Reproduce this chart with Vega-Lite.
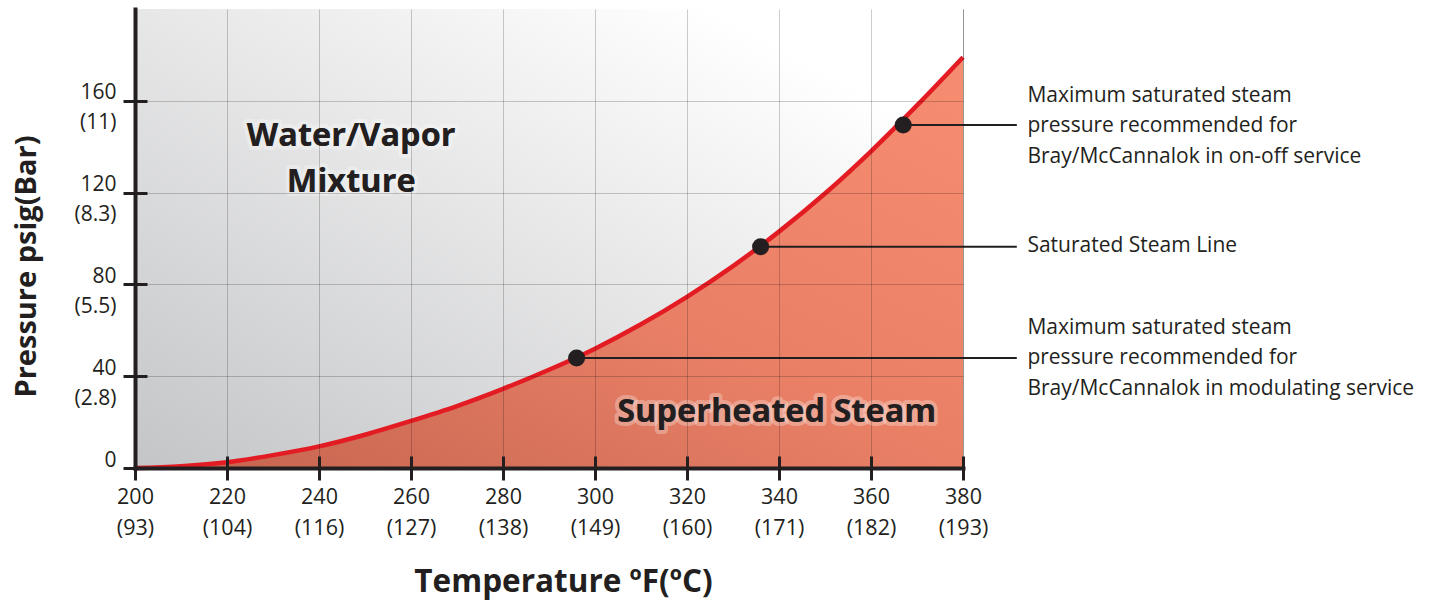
{
  "$schema": "https://vega.github.io/schema/vega-lite/v6.json",
  "width": 828,
  "height": 459,
  "autosize": {"type": "none"},
  "padding": {"left": 135, "top": 9, "right": 471, "bottom": 134},
  "background": "white",
  "config": {
    "view": {"stroke": "#bdbdbd", "strokeWidth": 1},
    "font": "Open Sans"
  },
  "datasets": {
    "bg": [{"t0": 200, "t1": 380, "p0": 0, "p1": 200}],
    "curve": [
      {"temp": 200, "psig": 0},
      {"temp": 210, "psig": 0.8},
      {"temp": 220, "psig": 2.5},
      {"temp": 230, "psig": 5.6},
      {"temp": 240, "psig": 9.4},
      {"temp": 250, "psig": 14.5},
      {"temp": 260, "psig": 20.5},
      {"temp": 270, "psig": 27},
      {"temp": 280, "psig": 34.5},
      {"temp": 290, "psig": 42.8},
      {"temp": 300, "psig": 52},
      {"temp": 310, "psig": 62.6},
      {"temp": 320, "psig": 74.6},
      {"temp": 330, "psig": 88},
      {"temp": 340, "psig": 103},
      {"temp": 350, "psig": 119.6},
      {"temp": 360, "psig": 138},
      {"temp": 370, "psig": 158},
      {"temp": 380, "psig": 179}
    ],
    "notes": [
      {"temp": 367, "psig": 149.5, "end": 391.7, "tx": 394, "ty": 162.2, "label": "Maximum saturated steam\npressure recommended for\nBray/McCannalok in on-off service"},
      {"temp": 336, "psig": 96.4, "end": 391.7, "tx": 394, "ty": 96.8, "label": "Saturated Steam Line"},
      {"temp": 296, "psig": 47.9, "end": 391.7, "tx": 394, "ty": 61.1, "label": "Maximum saturated steam\npressure recommended for\nBray/McCannalok in modulating service"}
    ],
    "regions": [
      {"temp": 247, "psig": 140.1, "label": "Water/Vapor\nMixture"},
      {"temp": 339.5, "psig": 20.2, "label": "Superheated Steam"}
    ]
  },
  "layer": [
    {
      "layer": [
        {
          "data": {"name": "bg"},
          "mark": {
            "type": "rect",
            "fill": {"gradient": "linear", "x1": 0, "y1": 1, "x2": 1, "y2": 0,
              "stops": [{"offset": 0, "color": "#c4c5c7"}, {"offset": 0.85, "color": "#ffffff"}, {"offset": 1, "color": "#ffffff"}]}
          },
          "encoding": {
            "x": {"field": "t0", "type": "quantitative", "title": "Temperature ºF(ºC)",
              "scale": {"domain": [200, 380], "nice": false, "zero": false},
              "axis": {
                "values": [200, 220, 240, 260, 280, 300, 320, 340, 360, 380],
                "grid": true, "gridColor": "#000000", "gridOpacity": 0.2, "gridWidth": 1,
                "domain": true, "domainColor": "#231f20", "domainWidth": 4, "domainCap": "square",
                "ticks": true, "tickColor": "#231f20", "tickWidth": 3, "tickSize": 12,
                "labelExpr": "[toString(datum.value), '(' + round((datum.value - 32) * 5 / 9) + ')']",
                "labelFont": "Open Sans", "labelFontSize": 21.5, "labelColor": "#231f20",
                "labelLineHeight": 31, "labelPadding": 6, "labelBaseline": "top",
                "labelFlush": false, "labelOverlap": false, "labelBound": false,
                "title": "Temperature ºF(ºC)", "titleFont": "Open Sans", "titleFontSize": 31.5,
                "titleFontWeight": "bold", "titleColor": "#231f20", "titleX": 428, "titleY": 123,
                "titleAlign": "center", "titleBaseline": "alphabetic", "titleAnchor": null,
                "zindex": 1
              }
            },
            "x2": {"field": "t1"},
            "y": {"field": "p0", "type": "quantitative", "title": "Pressure psig(Bar)",
              "scale": {"domain": [0, 200], "nice": false},
              "axis": {
                "values": [0, 40, 80, 120, 160],
                "grid": true, "gridColor": "#000000", "gridOpacity": 0.2, "gridWidth": 1,
                "domain": true, "domainColor": "#231f20", "domainWidth": 4, "domainCap": "square",
                "ticks": true, "tickColor": "#231f20", "tickWidth": 3, "tickSize": 12,
                "labelExpr": "datum.value == 0 ? ['0', ''] : datum.value == 40 ? ['40', '(2.8)'] : datum.value == 80 ? ['80', '(5.5)'] : datum.value == 120 ? ['120', '(8.3)'] : ['160', '(11)']",
                "labelFont": "Open Sans", "labelFontSize": 21, "labelColor": "#231f20",
                "labelLineHeight": 30, "labelPadding": 7, "labelBaseline": "middle", "labelAlign": "right",
                "labelOffset": -8,
                "labelFlush": false, "labelOverlap": false, "labelBound": false,
                "title": "Pressure psig(Bar)", "titleFont": "Open Sans", "titleFontSize": 29,
                "titleFontWeight": "bold", "titleColor": "#231f20", "titleAngle": 270,
                "titleX": -100, "titleY": 257, "titleAlign": "center", "titleBaseline": "alphabetic",
                "titleAnchor": null,
                "zindex": 1
              }
            },
            "y2": {"field": "p1"}
          }
        },
        {
          "data": {"name": "curve"},
          "mark": {
            "type": "area", "interpolate": "monotone",
            "fill": {"gradient": "linear", "x1": 0, "y1": 1, "x2": 1, "y2": 0,
              "stops": [{"offset": 0, "color": "#c4634f"}, {"offset": 0.5, "color": "#e98066"}, {"offset": 1, "color": "#f78d70"}]}
          },
          "encoding": {
            "x": {"field": "temp", "type": "quantitative", "title": "Temperature ºF(ºC)"},
            "y": {"field": "psig", "type": "quantitative", "title": "Pressure psig(Bar)"}
          }
        },
        {
          "data": {"name": "curve"},
          "mark": {"type": "line", "interpolate": "monotone", "color": "#e31b23", "strokeWidth": 4.5},
          "encoding": {
            "x": {"field": "temp", "type": "quantitative", "title": "Temperature ºF(ºC)"},
            "y": {"field": "psig", "type": "quantitative", "title": "Pressure psig(Bar)"}
          }
        },
        {
          "data": {"name": "notes"},
          "mark": {"type": "rule", "color": "#231f20", "strokeWidth": 2},
          "encoding": {
            "x": {"field": "temp", "type": "quantitative", "title": "Temperature ºF(ºC)"},
            "x2": {"field": "end"},
            "y": {"field": "psig", "type": "quantitative", "title": "Pressure psig(Bar)"}
          }
        },
        {
          "data": {"name": "notes"},
          "mark": {"type": "circle", "color": "#231f20", "opacity": 1, "size": 290},
          "encoding": {
            "x": {"field": "temp", "type": "quantitative", "title": "Temperature ºF(ºC)"},
            "y": {"field": "psig", "type": "quantitative", "title": "Pressure psig(Bar)"}
          }
        },
        {
          "data": {"name": "notes"},
          "mark": {"type": "text", "align": "left", "baseline": "middle", "font": "Open Sans",
            "fontSize": 21, "lineHeight": 30.5, "lineBreak": "\n", "color": "#231f20"},
          "encoding": {
            "x": {"field": "tx", "type": "quantitative", "title": "Temperature ºF(ºC)"},
            "y": {"field": "ty", "type": "quantitative", "title": "Pressure psig(Bar)"},
            "text": {"field": "label"}
          }
        },
        {
          "data": {"name": "regions"},
          "mark": {"type": "text", "align": "center", "baseline": "alphabetic", "font": "Open Sans",
            "fontSize": 32.5, "fontWeight": "bold", "lineHeight": 46, "lineBreak": "\n",
            "fill": "#231f20", "stroke": "#ffffff", "strokeWidth": 8, "strokeOpacity": 0.3, "strokeJoin": "round"},
          "encoding": {
            "x": {"field": "temp", "type": "quantitative", "title": "Temperature ºF(ºC)"},
            "y": {"field": "psig", "type": "quantitative", "title": "Pressure psig(Bar)"},
            "text": {"field": "label"}
          }
        },
        {
          "data": {"name": "regions"},
          "mark": {"type": "text", "align": "center", "baseline": "alphabetic", "font": "Open Sans",
            "fontSize": 32.5, "fontWeight": "bold", "lineHeight": 46, "lineBreak": "\n", "color": "#231f20"},
          "encoding": {
            "x": {"field": "temp", "type": "quantitative", "title": "Temperature ºF(ºC)"},
            "y": {"field": "psig", "type": "quantitative", "title": "Pressure psig(Bar)"},
            "text": {"field": "label"}
          }
        }
      ]
    },
    {
      "data": {"name": "bg"},
      "mark": {"type": "point", "opacity": 0},
      "encoding": {
        "x": {"field": "t0", "type": "quantitative",
          "axis": {"orient": "bottom", "values": [200, 220, 240, 260, 280, 300, 320, 340, 360, 380],
            "grid": false, "domain": false, "labels": false, "title": null,
            "ticks": true, "tickColor": "#231f20", "tickWidth": 3, "tickSize": -12, "zindex": 1}},
        "y": {"field": "p0", "type": "quantitative",
          "axis": {"orient": "left", "values": [0, 40, 80, 120, 160],
            "grid": false, "domain": false, "labels": false, "title": null,
            "ticks": true, "tickColor": "#231f20", "tickWidth": 3, "tickSize": -12, "zindex": 1}}
      }
    }
  ],
  "resolve": {"axis": {"x": "independent", "y": "independent"}}
}
